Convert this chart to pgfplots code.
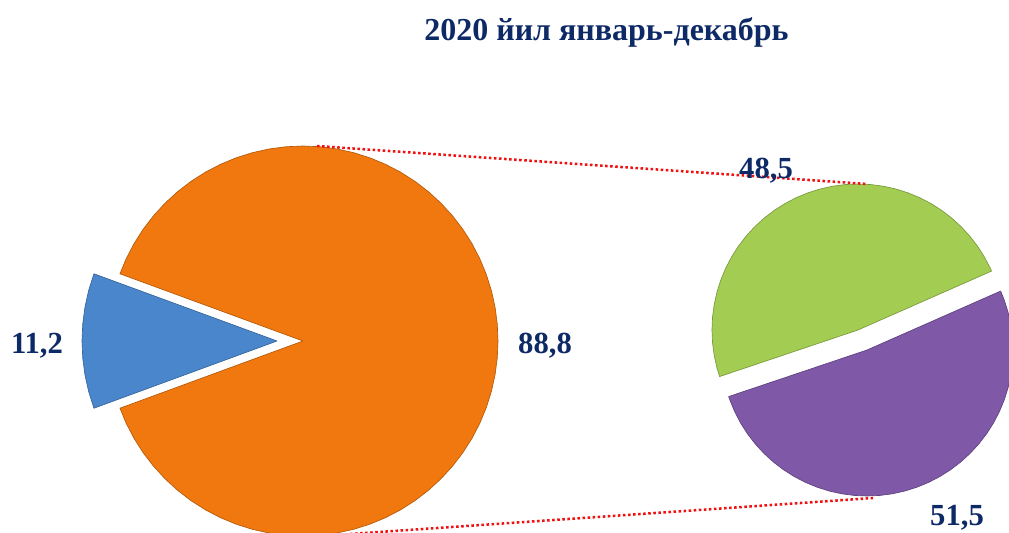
\documentclass[border=0pt]{standalone}
\usepackage{pgfplots}
\pgfplotsset{compat=1.18}
\usepackage{fontspec}
\setmainfont{Liberation Serif}

\definecolor{cNavy}{HTML}{0E2A66}
\definecolor{cOrange}{HTML}{F0780F}
\definecolor{cBlue}{HTML}{4A86CC}
\definecolor{cGreen}{HTML}{A3CC52}
\definecolor{cPurple}{HTML}{7F58A8}
\definecolor{cRed}{HTML}{F01010}

\pgfplotsset{
  pie/.style={hide axis, scale only axis, clip=false, data cs=polar,
              xmin=-1, xmax=1, ymin=-1, ymax=1, anchor=center},
  wedge/.style={fill=#1, draw=#1!75!black, line width=0.5pt, line join=round},
}
\tikzset{
  lbl/.style={font=\fontsize{23}{24}\selectfont\bfseries, text=cNavy,
              anchor=base, inner sep=0pt},
}

\begin{document}
\begin{tikzpicture}
  \useasboundingbox (0pt,0pt) rectangle (756.75pt,399pt);

  % first pie: 11.2 / 88.8 (angle, radius)
  \begin{axis}[pie, at={(227.25pt,143.25pt)}, width=292.5pt, height=292.5pt]
    \addplot[wedge=cOrange]
      coordinates {(0,0) (200.16,1) (205,1) (210,1) (215,1) (220,1) (225,1)
        (230,1) (235,1) (240,1) (245,1) (250,1) (255,1) (260,1) (265,1)
        (270,1) (275,1) (280,1) (285,1) (290,1) (295,1) (300,1) (305,1)
        (310,1) (315,1) (320,1) (325,1) (330,1) (335,1) (340,1) (345,1)
        (350,1) (355,1) (360,1) (365,1) (370,1) (375,1) (380,1) (385,1)
        (390,1) (395,1) (400,1) (405,1) (410,1) (415,1) (420,1) (425,1)
        (430,1) (435,1) (440,1) (445,1) (450,1) (455,1) (460,1) (465,1)
        (470,1) (475,1) (480,1) (485,1) (490,1) (495,1) (500,1) (505,1)
        (510,1) (515,1) (519.84,1) (0,0)};
    \addplot[wedge=cBlue, xshift=-19.5pt]
      coordinates {(0,0) (159.84,1) (165,1) (170,1) (175,1) (180,1) (185,1)
        (190,1) (195,1) (200.16,1) (0,0)};
  \end{axis}

  % second pie: 48.5 / 51.5
  \begin{axis}[pie, at={(646.875pt,144pt)}, width=219pt, height=219pt]
    \addplot[wedge=cGreen, xshift=-3.4pt, yshift=7.5pt]
      coordinates {(0,0) (23.8,1) (25,1) (30,1) (35,1) (40,1) (45,1) (50,1)
        (55,1) (60,1) (65,1) (70,1) (75,1) (80,1) (85,1) (90,1) (95,1)
        (100,1) (105,1) (110,1) (115,1) (120,1) (125,1) (130,1) (135,1)
        (140,1) (145,1) (150,1) (155,1) (160,1) (165,1) (170,1) (175,1)
        (180,1) (185,1) (190,1) (195,1) (198.6,1) (0,0)};
    \addplot[wedge=cPurple, xshift=3.4pt, yshift=-7.5pt]
      coordinates {(0,0) (198.6,1) (200,1) (205,1) (210,1) (215,1) (220,1)
        (225,1) (230,1) (235,1) (240,1) (245,1) (250,1) (255,1) (260,1)
        (265,1) (270,1) (275,1) (280,1) (285,1) (290,1) (295,1) (300,1)
        (305,1) (310,1) (315,1) (320,1) (325,1) (330,1) (335,1) (340,1)
        (345,1) (350,1) (355,1) (360,1) (365,1) (370,1) (375,1) (380,1)
        (383.8,1) (0,0)};
  \end{axis}

  % connectors, labels and title in pixel coordinates
  \begin{axis}[at={(0pt,0pt)}, anchor=south west, scale only axis,
      width=756.75pt, height=399pt, hide axis, clip=false,
      xmin=0, xmax=1009, ymin=0, ymax=532, y dir=reverse]
    \addplot[cRed, line width=1.9pt, dash pattern=on 1.9pt off 1.9pt]
      coordinates {(317,146) (867,184)};
    \addplot[cRed, line width=1.9pt, dash pattern=on 1.9pt off 1.9pt]
      coordinates {(350,534) (873,498)};
    \node[lbl, font=\fontsize{24}{26}\selectfont\bfseries] at (axis cs:606.5,40)
      {2020 йил январь-декабрь};
    \node[lbl] at (axis cs:37,353) {11,2};
    \node[lbl] at (axis cs:545,353) {88,8};
    \node[lbl] at (axis cs:766,178) {48,5};
    \node[lbl] at (axis cs:957,525) {51,5};
  \end{axis}
\end{tikzpicture}
\end{document}
